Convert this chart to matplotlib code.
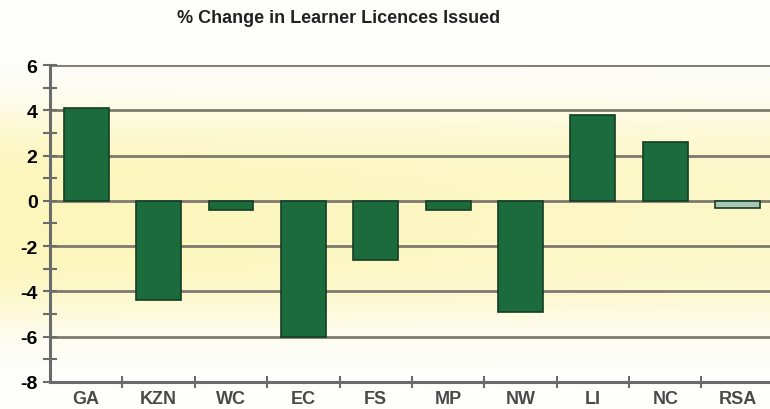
import numpy as np
import matplotlib.pyplot as plt
from matplotlib.colors import LinearSegmentedColormap

provinces = ['GA', 'KZN', 'WC', 'EC', 'FS', 'MP', 'NW', 'LI', 'NC', 'RSA']
pct_change = [4.1, -4.4, -0.4, -6.0, -2.6, -0.4, -4.9, 3.8, 2.6, -0.3]
y_ticks = [6, 4, 2, 0, -2, -4, -6, -8]

plt.rcParams['font.family'] = ['Liberation Sans', 'DejaVu Sans']

fig = plt.figure(figsize=(7.7, 4.1), dpi=100)

# scanned-paper look: pale yellow band fading to white
bg = fig.add_axes([0, 0, 1, 1], zorder=-10)
yy = np.linspace(0, 1, 300)[:, None]
xx = np.linspace(0, 1, 300)[None, :]
band = np.exp(-((yy - 0.47) / 0.26) ** 4) * (1 - 0.2 * xx)
cmap = LinearSegmentedColormap.from_list('paper', ['#fefefa', '#fcf6bc'])
bg.imshow(band, cmap=cmap, aspect='auto', extent=[0, 1, 0, 1], vmin=0, vmax=1, origin='lower')
bg.axis('off')

ax = fig.add_axes([0.065, 0.066, 0.94, 0.773])
ax.patch.set_alpha(0)

x = np.arange(len(provinces))
colors = ['#1c6b3c'] * len(provinces)
colors[-1] = '#a9c6b2'
ax.bar(x, pct_change, width=0.62, color=colors, edgecolor='#143d24', linewidth=1.2, zorder=3)

for v in y_ticks[:-1]:
    ax.axhline(v, color='#7d7a6e', lw=2, zorder=1)

ax.set_ylim(-8, 6)
ax.set_xlim(-0.5, 9.5)
ax.set_yticks(y_ticks)
ax.set_yticks(np.arange(-7, 6, 2), minor=True)
ax.set_yticklabels([str(v) for v in y_ticks], fontsize=14, fontweight='bold')
ax.set_xticks(x)
ax.set_xticklabels(provinces, fontsize=13, fontweight='bold', color='#4a4a4a')
ax.set_xticks(np.arange(0.5, 9.5, 1), minor=True)
ax.tick_params(axis='x', which='major', length=0, pad=6)
ax.tick_params(axis='x', which='minor', length=8, width=1.5, color='#6b6b6b', direction='inout')
ax.tick_params(axis='y', which='both', length=10, width=1.5, color='#6b6b6b', direction='inout', pad=4)

for side in ['top', 'right']:
    ax.spines[side].set_visible(False)
for side in ['left', 'bottom']:
    ax.spines[side].set_color('#6b6b6b')
    ax.spines[side].set_linewidth(2.2)

fig.text(0.44, 0.955, '% Change in Learner Licences Issued', ha='center', va='center',
         fontsize=13, fontweight='bold', color='#222222')

fig.savefig('out.png', dpi=100)
